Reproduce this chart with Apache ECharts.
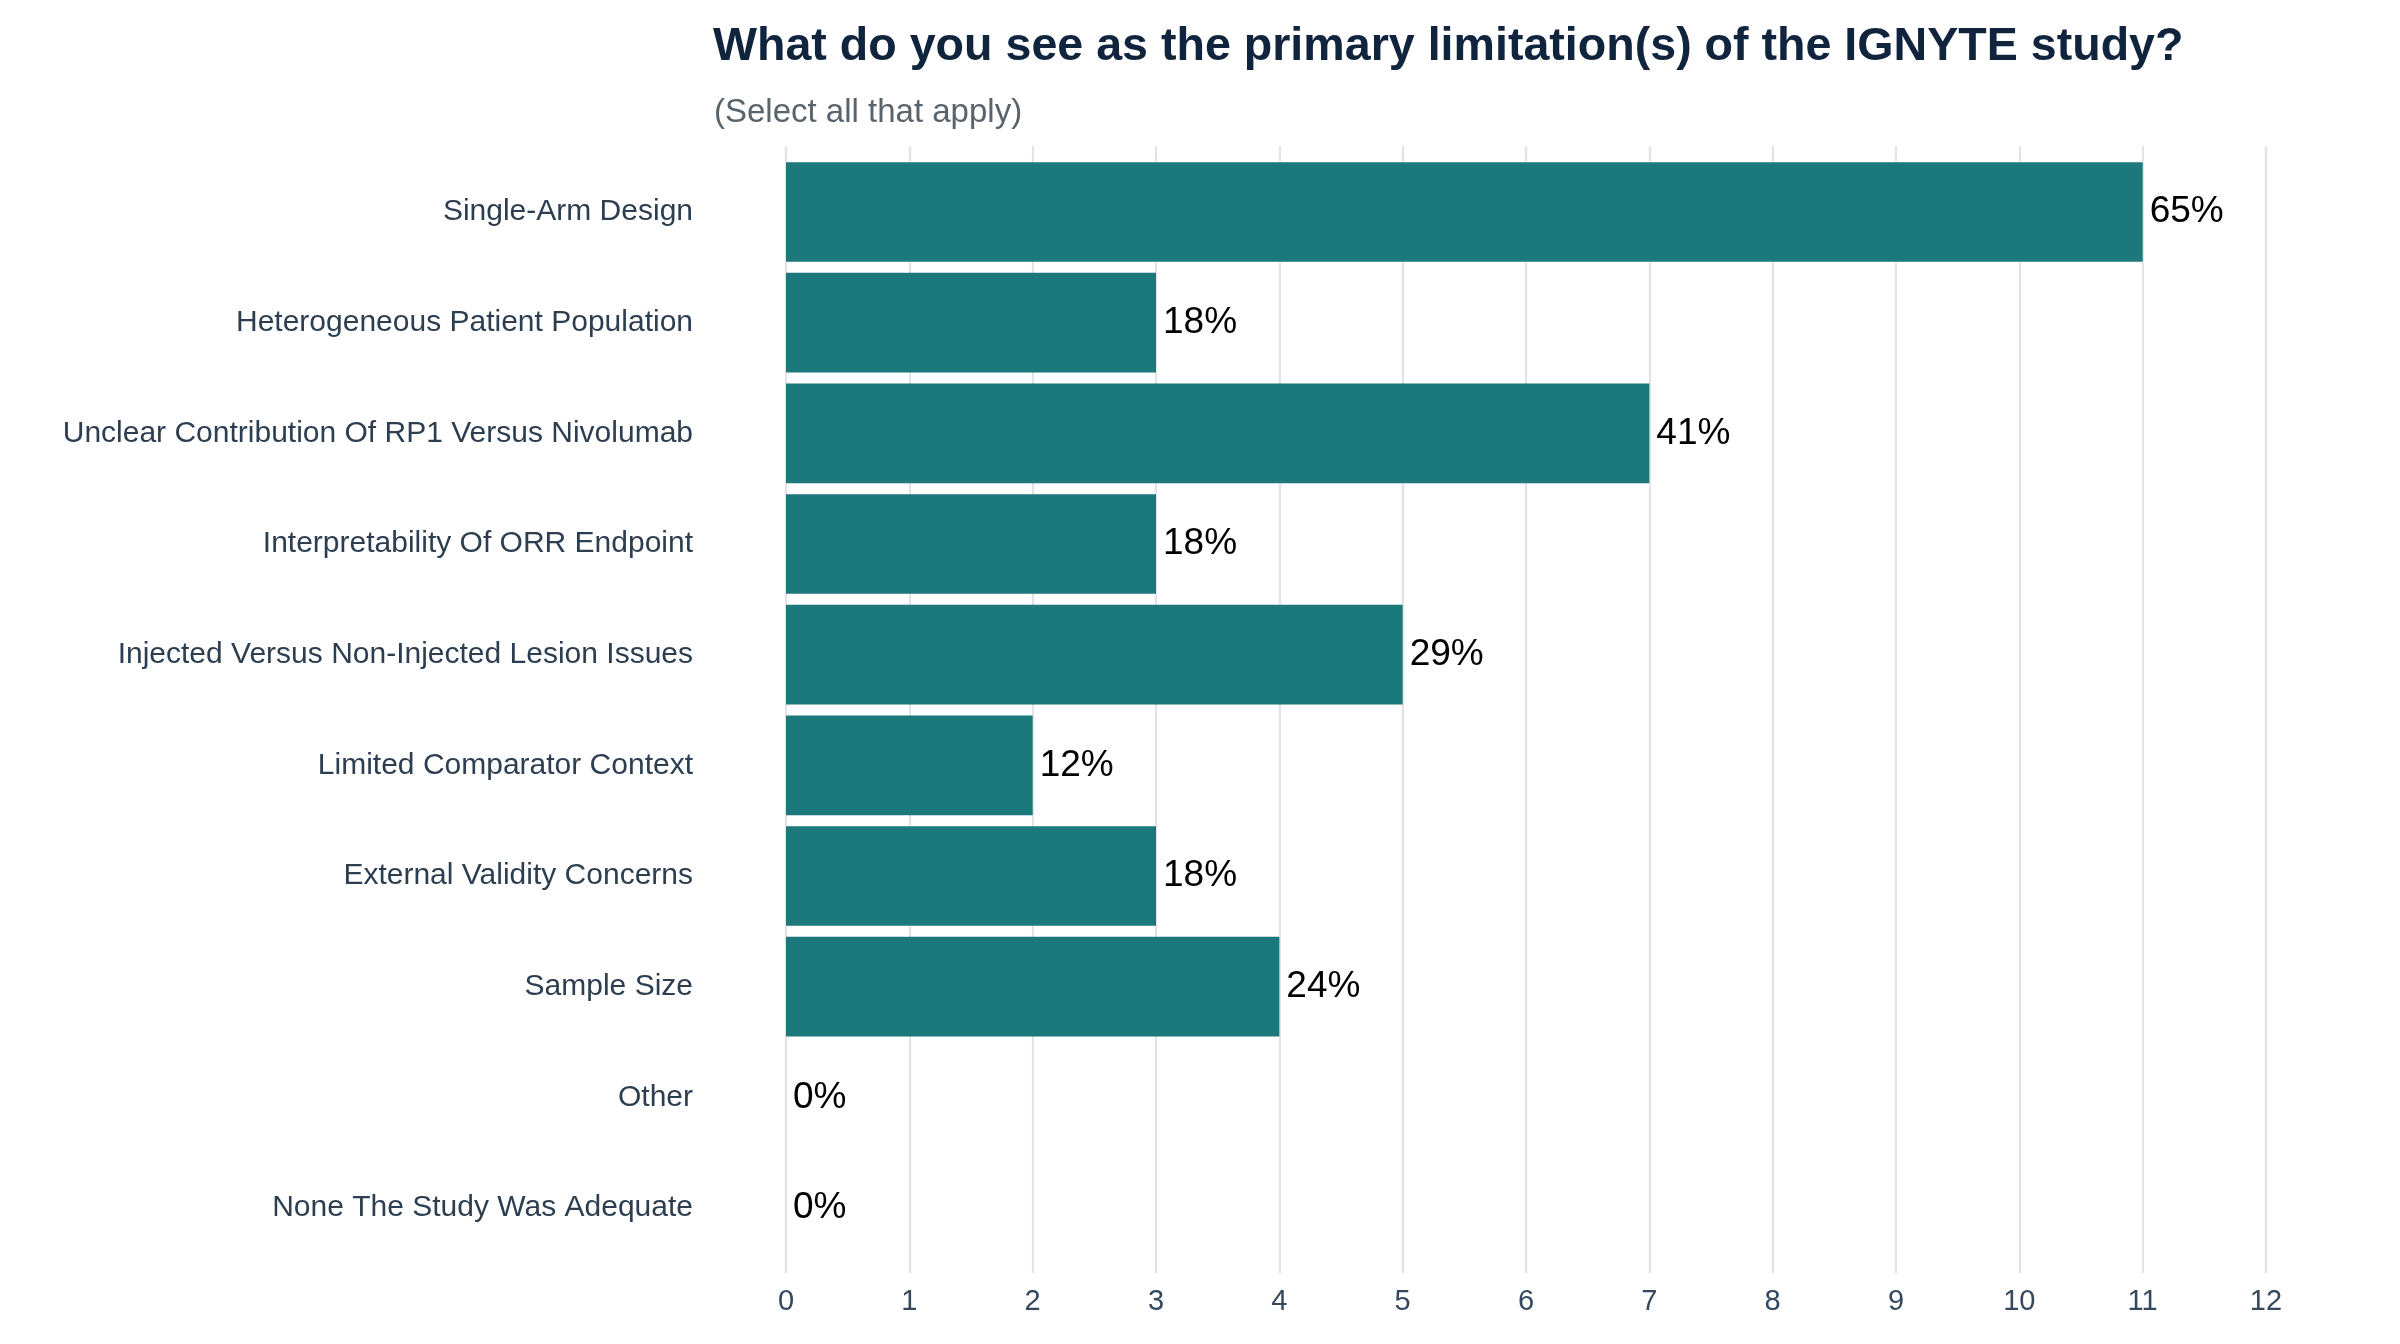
<!DOCTYPE html>
<html>
<head>
<meta charset="utf-8">
<script src="https://cdn.jsdelivr.net/npm/echarts@6/dist/echarts.min.js"></script>
<style>
  html, body { margin: 0; padding: 0; background: #fff; }
  #main { width: 2400px; height: 1344px; }
</style>
</head>
<body>
<div id="main"></div>
<script>
// survey answers, top to bottom as shown
var categories = [
  'Single-Arm Design',
  'Heterogeneous Patient Population',
  'Unclear Contribution Of RP1 Versus Nivolumab',
  'Interpretability Of ORR Endpoint',
  'Injected Versus Non-Injected Lesion Issues',
  'Limited Comparator Context',
  'External Validity Concerns',
  'Sample Size',
  'Other',
  'None The Study Was Adequate'
];
var counts = [11, 3, 7, 3, 5, 2, 3, 4, 0, 0];
var percents = [65, 18, 41, 18, 29, 12, 18, 24, 0, 0];
var xTicks = [0, 1, 2, 3, 4, 5, 6, 7, 8, 9, 10, 11, 12];

var font = "'Liberation Sans', Arial, sans-serif";
var chart = echarts.init(document.getElementById('main'), null, { renderer: 'canvas' });

var option = {
  backgroundColor: '#ffffff',
  animation: false,
  title: [
    {
      text: 'What do you see as the primary limitation(s) of the IGNYTE study?',
      left: 708, top: 19,
      textStyle: { fontFamily: font, fontSize: 46.6, fontWeight: 'bold', color: '#10243e' }
    },
    {
      text: '(Select all that apply)',
      left: 709, top: 91,
      textStyle: { fontFamily: font, fontSize: 33, fontWeight: 'normal', color: '#59636c' }
    }
  ],
  // grid 0 = panel incl. ggplot-style expansion (gridlines + ticks), grid 1 = bars
  grid: [
    { left: 786, width: 1480, top: 146, height: 1127, containLabel: false },
    { left: 786, width: 1480, top: 156.65, height: 1106.7, containLabel: false }
  ],
  xAxis: [
    {
      gridIndex: 0, type: 'value', min: xTicks[0], max: xTicks[xTicks.length - 1], interval: 1,
      axisLine: { show: false }, axisTick: { show: false },
      splitLine: { show: true, lineStyle: { color: '#e3e3e3', width: 2.2 } },
      axisLabel: { fontFamily: font, fontSize: 29, color: '#34495e', margin: 14 }
    },
    {
      gridIndex: 1, type: 'value', min: xTicks[0], max: xTicks[xTicks.length - 1], interval: 1,
      show: false, splitLine: { show: false }
    }
  ],
  yAxis: [
    {
      gridIndex: 0, type: 'category', data: categories, inverse: true, show: false
    },
    {
      gridIndex: 1, type: 'category', data: categories, inverse: true,
      axisLine: { show: false }, axisTick: { show: false }, splitLine: { show: false },
      axisLabel: { fontFamily: font, fontSize: 30, color: '#2c3e50', margin: 93, padding: [8, 0, 0, 0] }
    }
  ],
  series: [
    {
      type: 'bar',
      xAxisIndex: 1, yAxisIndex: 1,
      data: counts,
      barWidth: '90%',
      itemStyle: { color: '#1b797b' },
      label: {
        show: true, position: 'right', distance: 7,
        fontFamily: font, fontSize: 37, color: '#000000',
        padding: [8, 0, 0, 0],
        formatter: function (p) { return percents[p.dataIndex] + '%'; }
      }
    }
  ]
};

chart.setOption(option);
</script>
</body>
</html>
